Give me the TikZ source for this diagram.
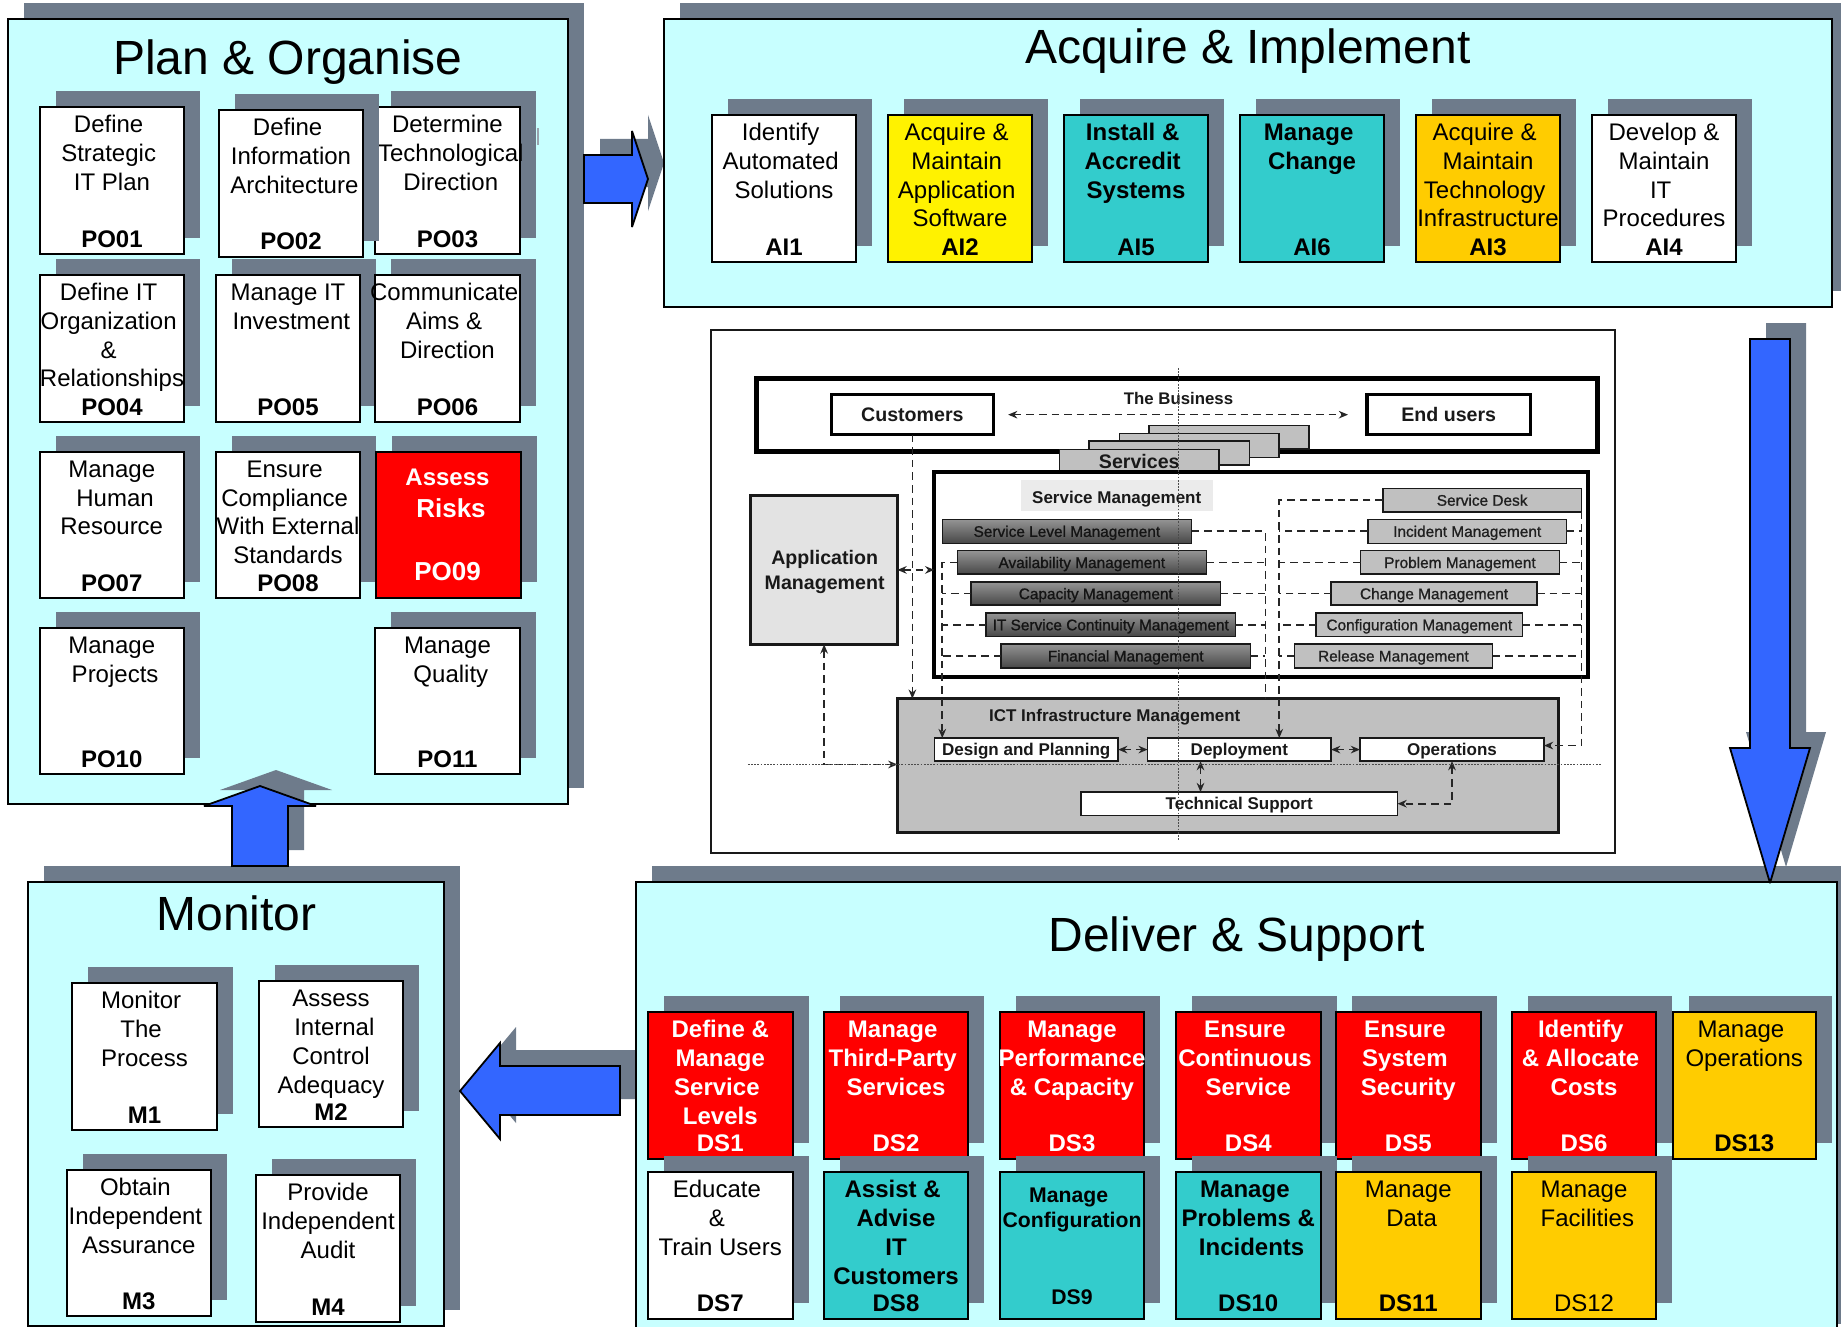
\documentclass[tikz,border=0pt]{standalone}
\usepackage{fontspec}
\setmainfont{Liberation Sans}
\newfontfamily\semifont[FakeBold=1]{Liberation Sans}
\usetikzlibrary{arrows.meta}
\definecolor{slate}{HTML}{6E7B8B}
\definecolor{panelcyan}{HTML}{C8FFFF}
\definecolor{tealbox}{HTML}{33CCCC}
\definecolor{orangebox}{HTML}{FFCC00}
\definecolor{arrowblue}{HTML}{3366FF}
\definecolor{midgrey}{HTML}{C0C0C0}
\newcommand{\Sp}{\leavevmode\kern3.34pt\relax}
\newcommand{\WT}[1]{{\color{white}#1}}
\newcommand{\cX}[1]{(700+((#1)-700)*.997)}
\newcommand{\cY}[1]{(320+((#1)-320)*.9966)}
\tikzset{
  >={Stealth[length=4.6pt,width=3.8pt]},
  shadowbox/.style={rectangle,fill=slate,draw=none,inner sep=0pt,outer sep=0pt},
  framebox/.style={rectangle,draw=black,line width=1pt,inner sep=0pt,outer sep=0pt},
  wbox/.style={framebox,fill=white},
  rbox/.style={framebox,fill=red},
  tbox/.style={framebox,fill=tealbox},
  ybox/.style={framebox,fill=yellow},
  obox/.style={framebox,fill=orangebox},
  pbox/.style={framebox,fill=panelcyan},
  txt/.style={inner sep=0pt,outer sep=0pt,align=center,text=black,font=\fontsize{12}{14.35}\selectfont},
  bplain/.style={txt},
  bbold/.style={txt,font=\fontsize{12}{14.35}\selectfont\bfseries},
  bwhite/.style={txt,text=white,font=\fontsize{12}{14.35}\selectfont\bfseries},
  codetxt/.style={txt,font=\fontsize{12}{14.35}\selectfont\bfseries},
  titletxt/.style={inner sep=0pt,outer sep=0pt,font=\fontsize{24}{28}\selectfont},
  blockarrow/.style={draw=black,line width=.9pt,fill=arrowblue,line join=miter,miter limit=3},
  arrowshadow/.style={fill=slate,shift={(16,-16)}},
  cbold/.style={inner sep=0pt,outer sep=0pt,text height=6.1pt,text depth=0pt,font=\fontsize{8.5}{10}\selectfont\bfseries,text=black!90},
  clarge/.style={inner sep=0pt,outer sep=0pt,align=center,font=\fontsize{9.8}{12.6}\selectfont\bfseries,text=black!90},
  cframe/.style={rectangle,draw=black!90,inner sep=0pt,outer sep=0pt},
  darksvc/.style={cframe,line width=.7pt,top color=black!42,bottom color=black!72,text=black!92,text height=5.6pt,text depth=0pt,font=\fontsize{7.7}{9}\semifont},
  greysvc/.style={cframe,line width=.7pt,fill=midgrey,text=black!88,text height=5.6pt,text depth=0pt,font=\fontsize{7.7}{9}\semifont},
  stackbox/.style={cframe,line width=.7pt,fill=midgrey},
  dashconn/.style={draw=black!85,line width=.8pt,dash pattern=on 3.8pt off 2.5pt},
  dotline/.style={draw=black!70,line width=.35pt,dash pattern=on .9pt off .7pt},
}
% name x1 y1 x2 y2 boxstyle bodystyle body code
\newcommand{\cobox}[9]{%
  \node[shadowbox,minimum width={(#4-#2)*0.5pt},minimum height={(#5-#3)*0.5pt}] (#1s) at ({(#2+#4)/2+16},{(#3+#5)/2-16}) {};
  \node[#6,minimum width={(#4-#2)*0.5pt},minimum height={(#5-#3)*0.5pt}] (#1) at ({(#2+#4)/2},{(#3+#5)/2}) {};
  \node[#7,anchor=north] (#1t) at ({(#2+#4)/2},{#3+5.8}) {\strut #8};
  \node[codetxt,anchor=base] (#1c) at ({(#2+#4)/2},{#5-7}) {#9};
}
\newcommand{\panelbox}[5]{%
  \node[shadowbox,minimum width={(#4-#2)*0.5pt},minimum height={(#5-#3)*0.5pt}] (#1s) at ({(#2+#4)/2+16},{(#3+#5)/2-16}) {};
  \node[pbox,minimum width={(#4-#2)*0.5pt},minimum height={(#5-#3)*0.5pt}] (#1) at ({(#2+#4)/2},{(#3+#5)/2}) {};
}
% name x1 y1 x2 y2 style text (centre drawing)
\newcommand{\cnode}[7]{%
  \node[#6,minimum width={(#4-#2)*0.4985pt},minimum height={(#5-#3)*0.4983pt}] (#1) at ({\cX{(#2+#4)/2}},{\cY{(#3+#5)/2}}) {#7};
}
\newcommand{\ccoord}[3]{\coordinate (#1) at ({\cX{#2}},{\cY{#3}});}
\begin{document}
\begin{tikzpicture}[x=0.5pt,y=-0.5pt]
\useasboundingbox (0,0) rectangle (1841,1327);
\fill[white] (0,0) rectangle (1841,1327);

% ---------- Plan & Organise
\panelbox{po}{7.6}{19}{568}{804}
\node[titletxt,anchor=base] (potitle) at (288,75) {Plan \& Organise};
\fill[slate!70] (537,128) rectangle (539,145);
\cobox{POa}{40}{107}{184}{254}{wbox}{bplain}{Define\Sp\\Strategic\Sp\\IT Plan}{PO01}
\cobox{POc}{375}{107}{520}{254}{wbox}{bplain}{Determine\\\Sp Technological\\\Sp Direction}{PO03}
\cobox{POb}{219}{110}{363}{256.5}{wbox}{bplain}{Define\Sp\\Information\\\Sp Architecture}{PO02}
\cobox{POd}{40}{275}{184}{422}{wbox}{bplain}{Define IT\Sp\\Organization\Sp\\\&\Sp\\Relationships}{PO04}
\cobox{POe}{216}{275}{360}{422}{wbox}{bplain}{Manage IT\\\Sp Investment}{PO05}
\cobox{POf}{375}{275}{520}{422}{wbox}{bplain}{Communicate\Sp\\Aims \&\Sp\\Direction}{PO06}
\cobox{POg}{39.5}{451.7}{184}{598}{wbox}{bplain}{Manage\\\Sp Human\\Resource}{PO07}
\cobox{POh}{216}{451.7}{360}{598}{wbox}{bplain}{Ensure\Sp\\Compliance\Sp\\With External\\Standards}{PO08}
% PO09: sizes differ line by line
\node[shadowbox,minimum width=72.5pt,minimum height=73.2pt] (POis) at (464,509) {};
\node[rbox,minimum width=72.5pt,minimum height=73.2pt] (POi) at (448,525) {};
\node[bwhite,anchor=base] (POit) at (447.5,485.5) {Assess};
\node[bwhite,anchor=base,font=\fontsize{13}{14}\selectfont\bfseries] (POir) at (451,517) {Risks};
\node[bwhite,anchor=base,font=\fontsize{13}{14}\selectfont\bfseries] (POic) at (447.5,580.5) {PO09};
\cobox{POj}{39.5}{627.7}{184}{774}{wbox}{bplain}{Manage\\\Sp Projects}{PO10}
\cobox{POk}{375}{627.7}{520}{774}{wbox}{bplain}{Manage\\\Sp Quality}{PO11}

% ---------- block arrow shadows that lie under panels, then panels
\path[arrowshadow] (584,155) -- (632,155) -- (632,131) -- (648,179) -- (632,227) -- (632,203) -- (584,203) -- cycle;
\path[arrowshadow] (620,1066) -- (500,1066) -- (500,1043) -- (460,1091) -- (500,1139) -- (500,1115) -- (620,1115) -- cycle;

% ---------- Acquire & Implement
\panelbox{ai}{664}{19}{1832}{307}
\node[titletxt,anchor=base] (aititle) at (1248,64) {Acquire \& Implement};
\cobox{AIa}{712}{115}{856}{262}{wbox}{bplain}{Identify\Sp\\Automated\Sp\\Solutions}{AI1}
\cobox{AIb}{888}{115}{1032}{262}{ybox}{bplain}{Acquire \&\Sp\\Maintain\Sp\\Application\Sp\\Software}{AI2}
\cobox{AIc}{1064}{115}{1208}{262}{tbox}{bbold}{Install \&\Sp\\Accredit\Sp\\Systems}{AI5}
\cobox{AId}{1240}{115}{1384}{262}{tbox}{bbold}{Manage\Sp\\Change}{AI6}
\cobox{AIe}{1416}{115}{1560}{262}{obox}{bplain}{Acquire \&\Sp\\Maintain\\Technology\Sp\\Infrastructure}{AI3}
\cobox{AIf}{1592}{115}{1736}{262}{wbox}{bplain}{Develop \&\\Maintain\\IT\Sp\\Procedures}{AI4}

% ---------- Monitor
\panelbox{mo}{27.5}{882}{444}{1326}
\node[titletxt,anchor=base] (motitle) at (236.5,930) {Monitor};
\cobox{Ma}{72}{983}{217}{1130}{wbox}{bplain}{Monitor\Sp\\The\Sp\\Process}{M1}
\cobox{Mb}{259}{981}{403}{1127}{wbox}{bplain}{Assess\\\Sp Internal\\Control\\Adequacy}{M2}
\cobox{Mc}{66.5}{1170}{211}{1316}{wbox}{bplain}{Obtain\Sp\\Independent\Sp\\Assurance}{M3}
\cobox{Md}{256}{1175}{400}{1322}{wbox}{bplain}{Provide\\Independent\\Audit}{M4}

% ---------- Deliver & Support
\panelbox{ds}{636}{882}{1837}{1340}
\node[titletxt,anchor=base] (dstitle) at (1236.5,951) {Deliver \& Support};
\cobox{DSa}{648}{1012}{792.5}{1158.5}{rbox}{bwhite}{Define \&\\Manage\\Service\Sp\\Levels}{\WT{DS1}}
\cobox{DSb}{824}{1012}{968}{1158.5}{rbox}{bwhite}{Manage\Sp\\Third-Party\Sp\\Services}{\WT{DS2}}
\cobox{DSc}{1000}{1012}{1144}{1158.5}{rbox}{bwhite}{Manage\\Performance\\\& Capacity}{\WT{DS3}}
\cobox{DSd}{1176}{1012}{1320.5}{1158.5}{rbox}{bwhite}{Ensure\Sp\\Continuous\Sp\\Service}{\WT{DS4}}
\cobox{DSe}{1336}{1012}{1480.5}{1158.5}{rbox}{bwhite}{Ensure\Sp\\System\Sp\\Security}{\WT{DS5}}
\cobox{DSf}{1512}{1012}{1656}{1158.5}{rbox}{bwhite}{Identify\Sp\\\& Allocate\Sp\\Costs}{\WT{DS6}}
\cobox{DSm}{1672.5}{1012}{1816}{1158.5}{obox}{bplain}{Manage\Sp\\Operations}{DS13}
\cobox{DSg}{648}{1172}{792.5}{1318.7}{wbox}{bplain}{Educate\Sp\\\&\Sp\\Train Users}{DS7}
\cobox{DSh}{824}{1172}{968}{1318.7}{tbox}{bbold}{Assist \&\Sp\\Advise\\IT\\Customers}{DS8}
% DS9: smaller type
\node[shadowbox,minimum width=72pt,minimum height=73.35pt] (DSis) at (1088,1229.35) {};
\node[tbox,minimum width=72pt,minimum height=73.35pt] (DSi) at (1072,1245.35) {};
\node[bbold,anchor=north,font=\fontsize{10.6}{12.6}\selectfont\bfseries] (DSit) at (1072,1184.5) {\strut Manage\Sp\\Configuration};
\node[codetxt,anchor=base,font=\fontsize{10.6}{12.6}\selectfont\bfseries] (DSic) at (1072,1304) {DS9};
\cobox{DSj}{1176}{1172}{1320.5}{1318.7}{tbox}{bbold}{Manage\Sp\\Problems \&\\\Sp Incidents}{DS10}
\cobox{DSk}{1336}{1172}{1480.5}{1318.7}{obox}{bplain}{Manage\\\Sp Data}{DS11}
\cobox{DSl}{1512}{1172}{1656}{1318.7}{obox}{bplain}{Manage\\\Sp Facilities}{{\mdseries DS12}}

% ---------- centre: ITIL picture
\cnode{itil}{710.6}{330}{1618}{855}{cframe,line width=1pt,fill=white}{}
\cnode{biz}{757}{379}{1600}{452}{cframe,line width=2.6pt,draw=black,fill=white}{}
\node[cbold,font=\fontsize{8.4}{10}\selectfont\bfseries] (biztxt) at ({\cX{1180}},{\cY{398.5}}) {The Business};
\cnode{cust}{832}{395}{994}{435}{cframe,line width=1.6pt,draw=black,fill=white,clarge}{Customers}
\cnode{endu}{1369}{395}{1533}{435}{cframe,line width=1.6pt,draw=black,fill=white,clarge}{End users}
\cnode{svcd}{1150.5}{426}{1311}{449.6}{stackbox}{}
\cnode{svcc}{1120.6}{434}{1280.6}{458}{stackbox}{}
\cnode{svcb}{1090}{441.6}{1251}{465.5}{stackbox}{}
\cnode{svca}{1060.6}{450}{1220.6}{473}{stackbox,clarge}{Services}
\cnode{smf}{935}{473}{1591}{678}{cframe,line width=2pt,draw=black,fill=white}{}
\cnode{smb}{1022}{481}{1215}{512}{rectangle,fill=black!8}{}
\node[cbold] (smt) at ({\cX{1118}},{\cY{498.5}}) {Service Management};
\cnode{app}{751}{496}{898}{645.5}{cframe,line width=1.6pt,fill=black!11}{}
\node[clarge] (apptxt) at ({\cX{825}},{\cY{573}}) {Application\\Management};
\cnode{ict}{898}{700}{1561}{834}{cframe,line width=1.6pt,fill=midgrey}{}
\node[cbold] (icttxt) at ({\cX{1116}},{\cY{717}}) {ICT Infrastructure Management};
\cnode{dp}{935}{739.5}{1119.4}{762.6}{cframe,line width=.7pt,fill=white,cbold}{Design and Planning}
\cnode{dep}{1149}{739.5}{1333}{762.6}{cframe,line width=.7pt,fill=white,cbold}{Deployment}
\cnode{ops}{1362}{739.5}{1546.5}{762.6}{cframe,line width=.7pt,fill=white,cbold}{Operations}
\cnode{tech}{1082}{793.7}{1399.6}{817}{cframe,line width=.7pt,fill=white,cbold}{Technical Support}

\cnode{slm}{943}{520}{1193}{544}{darksvc}{Service Level Management}
\cnode{avm}{958}{551.5}{1208}{575}{darksvc}{Availability Management}
\cnode{cpm}{972}{583}{1222}{606}{darksvc}{Capacity Management}
\cnode{itm}{987}{614}{1237}{637.5}{darksvc}{IT Service Continuity Management}
\cnode{fnm}{1002}{645}{1252}{669}{darksvc}{Financial Management}

\cnode{sdk}{1385}{489}{1584}{512.5}{greysvc}{Service Desk}
\cnode{inc}{1370}{520}{1569}{544}{greysvc}{Incident Management}
\cnode{prb}{1362.5}{551.5}{1562}{575}{greysvc}{Problem Management}
\cnode{chg}{1333}{583}{1539.5}{606}{greysvc}{Change Management}
\cnode{cfg}{1318}{614}{1525}{637.5}{greysvc}{Configuration Management}
\cnode{rel}{1296}{645}{1495}{669}{greysvc}{Release Management}

% free ends of the connectors
\ccoord{dpL}{943}{739.5}
\ccoord{busR}{1267}{700}
\ccoord{depL}{1281}{739.5}
\ccoord{opsR}{1546.5}{747}
\ccoord{ictW}{898}{766}
\ccoord{depS}{1202}{762.6}

\draw[dashconn,<->,shorten <=7.5pt,shorten >=9.5pt] (cust.east) -- (endu.west);
\draw[dashconn,->] (cust.south) -- (cust.south |- ict.north);
\draw[dashconn,<->] (app.east) -- (smf.west |- app.east);
\draw[dashconn,<->] (app.south) |- (ictW);

\draw[dashconn,->] (avm.west) -| (dpL);
\draw[dashconn] (cpm.west) -- (cpm.west -| dpL);
\draw[dashconn] (itm.west) -- (itm.west -| dpL);
\draw[dashconn] (fnm.west) -- (fnm.west -| dpL);

\draw[dashconn] (slm.east) -| (busR);
\draw[dashconn] (avm.east) -- (avm.east -| busR);
\draw[dashconn] (cpm.east) -- (cpm.east -| busR);
\draw[dashconn] (itm.east) -- (itm.east -| busR);
\draw[dashconn] (fnm.east) -- (fnm.east -| busR);

\draw[dashconn,->] (sdk.west) -| (depL);
\draw[dashconn] (inc.west) -- (inc.west -| depL);
\draw[dashconn] (prb.west) -- (prb.west -| depL);
\draw[dashconn] (chg.west) -- (chg.west -| depL);
\draw[dashconn] (cfg.west) -- (cfg.west -| depL);
\draw[dashconn] (rel.west) -- (rel.west -| depL);

\draw[dashconn,->] (sdk.south east) |- (opsR);
\draw[dashconn] (inc.east) -- (inc.east -| sdk.south east);
\draw[dashconn] (prb.east) -- (prb.east -| sdk.south east);
\draw[dashconn] (chg.east) -- (chg.east -| sdk.south east);
\draw[dashconn] (cfg.east) -- (cfg.east -| sdk.south east);
\draw[dashconn] (rel.east) -- (rel.east -| sdk.south east);

\draw[dashconn,<->] (dp.east) -- (dep.west);
\draw[dashconn,<->] (dep.east) -- (ops.west);
\draw[dashconn,<->] (depS) -- (depS |- tech.north);
\draw[dashconn,<->] (ops.south) |- (tech.east);

\ccoord{dotT}{1179.4}{368}
\ccoord{dotB}{1179.4}{842}
\ccoord{dotL}{748}{766}
\ccoord{dotR}{1604}{766}
\draw[dotline] (dotT) -- (dotB);
\draw[dotline] (dotL) -- (dotR);

% ---------- block arrows on top
\path[blockarrow] (584,155) -- (632,155) -- (632,131) -- (648,179) -- (632,227) -- (632,203) -- (584,203) -- cycle;
\path[blockarrow] (620,1066) -- (500,1066) -- (500,1043) -- (460,1091) -- (500,1139) -- (500,1115) -- (620,1115) -- cycle;
\path[arrowshadow] (1750,339) -- (1790,339) -- (1790,748) -- (1810,748) -- (1770,883) -- (1730,748) -- (1750,748) -- cycle;
\path[blockarrow] (1750,339) -- (1790,339) -- (1790,748) -- (1810,748) -- (1770,883) -- (1730,748) -- (1750,748) -- cycle;
\path[arrowshadow] (232,866) -- (232,806) -- (204,806) -- (260,786) -- (316,806) -- (288,806) -- (288,866) -- cycle;
\path[blockarrow] (232,866) -- (232,806) -- (204,806) -- (260,786) -- (316,806) -- (288,806) -- (288,866) -- cycle;
\end{tikzpicture}
\end{document}
